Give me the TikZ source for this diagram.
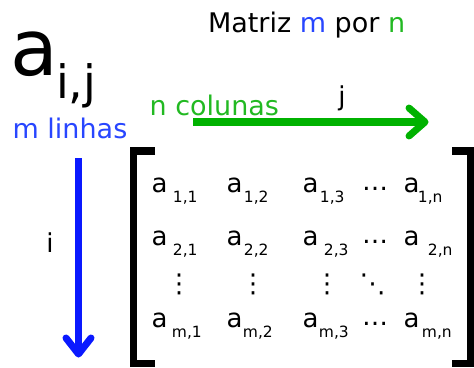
\documentclass[tikz,border=0pt]{standalone}
\usepackage{fontspec}
\setmainfont{DejaVu Sans}
\usetikzlibrary{calc}
\definecolor{txtblue}{RGB}{40,70,255}
\definecolor{txtgreen}{RGB}{34,185,34}
\definecolor{arrblue}{RGB}{10,25,255}
\definecolor{arrgreen}{RGB}{0,178,0}
\newcommand\fs[1]{\fontsize{#1pt}{#1pt}\selectfont}
\newcommand\mysub[2]{\kern#1pt\raisebox{-10pt}{\fs{15.5}#2}}
\tikzset{
  lbl/.style={inner sep=0pt, outer sep=0pt, anchor=base west, font=\fs{27}},
  ent/.style={inner sep=0pt, outer sep=0pt, anchor=base west, font=\fs{26}},
  dts/.style={inner sep=0pt, outer sep=0pt, anchor=center, font=\fs{26}},
  brk/.style={line width=7.5pt, line join=miter, line cap=butt},
  shaft/.style={line width=#1, line cap=butt},
  head/.style={line width=#1, line cap=round, line join=round}
}
\begin{document}
\begin{tikzpicture}[x=1pt,y=-1pt]
\useasboundingbox (0,0) rectangle (474,367);
% title
\node[lbl] (title) at (208,32) {Matriz \textcolor{txtblue}{m} por \textcolor{txtgreen}{n}};
% a_{i,j}
\node[inner sep=0pt, anchor=base west, font=\fs{78}] (abig) at (10,75) {a};
\node[inner sep=0pt, anchor=base west, font=\fs{46}] (ij) at (56,98) {i,j};
% labels
\node[lbl, text=txtblue] (mlin) at (12.6,138) {m linhas};
\node[lbl, text=txtgreen] (ncol) at (149.6,115) {n colunas};
\node[inner sep=0pt, anchor=base, font=\fs{26}] (jl) at (342,105) {j};
\node[inner sep=0pt, anchor=base, font=\fs{26}] (il) at (50,252) {i};
% arrows
\coordinate (gs) at (193,122);
\coordinate (ge) at (425,122);
\draw[shaft=8pt, arrgreen] (gs) -- ($(ge)+(-3,0)$);
\draw[head=7pt, arrgreen] ($(ge)+(-16,-14)$) -- (ge) -- ($(ge)+(-16,14)$);
\coordinate (bs) at (78.5,158);
\coordinate (be) at (78.5,354);
\draw[shaft=7pt, arrblue] (bs) -- ($(be)+(0,-3)$);
\draw[head=7pt, arrblue] ($(be)+(-12.5,-16)$) -- (be) -- ($(be)+(12.5,-16)$);
% brackets
\draw[brk] (155,151) -- (133.5,151) -- (133.5,363.5) -- (155,363.5);
\draw[brk] (452,151) -- (470.5,151) -- (470.5,363.5) -- (452,363.5);
% matrix entries
\node[ent] (a11) at (151.5,192) {a\mysub{5.5}{1,1}};
\node[ent] (a12) at (226.5,192) {a\mysub{1.5}{1,2}};
\node[ent] (a13) at (302.5,192) {a\mysub{1.5}{1,3}};
\node[ent] (d1)  at (362,190) {…};
\node[ent] (a1n) at (403.5,192) {a\mysub{-1.5}{1,n}};
\node[ent] (a21) at (151.5,245) {a\mysub{5.5}{2,1}};
\node[ent] (a22) at (226.5,245) {a\mysub{1.5}{2,2}};
\node[ent] (a23) at (302.5,245) {a\mysub{5.5}{2,3}};
\node[ent] (d2)  at (362,243) {…};
\node[ent] (a2n) at (403.5,245) {a\mysub{8.5}{2,n}};
\node[dts] (v1) at (179,284) {⋮};
\node[dts] (v2) at (253,284) {⋮};
\node[dts] (v3) at (327,284) {⋮};
\node[dts] (dd) at (372.5,284) {⋱};
\node[dts] (v5) at (422,284) {⋮};
\node[ent] (am1) at (151.5,327) {a\mysub{4.5}{m,1}};
\node[ent] (am2) at (226.5,327) {a\mysub{0.5}{m,2}};
\node[ent] (am3) at (302.5,327) {a\mysub{0.5}{m,3}};
\node[ent] (d4)  at (362,325) {…};
\node[ent] (amn) at (403.5,327) {a\mysub{2.5}{m,n}};
\end{tikzpicture}
\end{document}
